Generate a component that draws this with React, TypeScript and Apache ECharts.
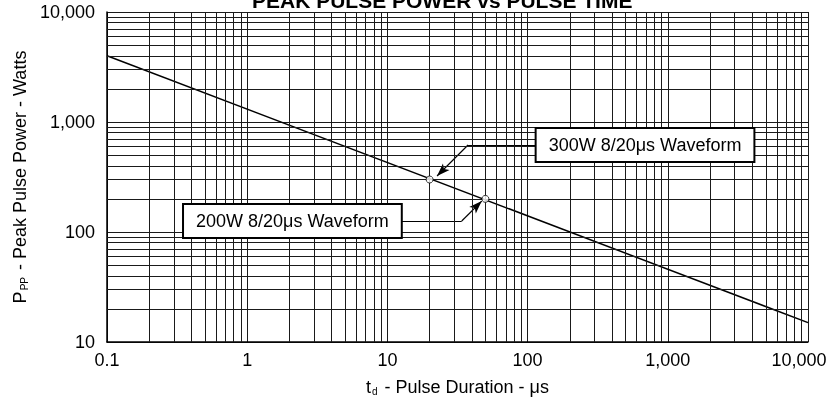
import React, { useEffect, useRef } from "react";
import * as echarts from "echarts";

const X_MIN = 0.1;
const X_MAX = 10000;
const Y_MIN = 10;
const Y_MAX = 10000;

const xDecades = [0.1, 1, 10, 100, 1000];
const yDecades = [10, 100, 1000];
const minorMultipliers = [2, 3, 4, 5, 6, 7, 8, 9];

const curveX = [0.1, 10000];
const curveY = [4000, 15];

const pointX = [20, 50];
const pointY = [300, 200];

const annotationLabels = ["300W 8/20μs Waveform", "200W 8/20μs Waveform"];
const annotationAnchorX = [116, 12.46];
const annotationAnchorY = [618, 126];
const annotationAlign = ["left", "right"];
const elbowX = [37.6, 33.9];
const tipX = [22.6, 47.1];
const tipY = [323, 191];

const FONT = "Liberation Sans, Arial, Helvetica, sans-serif";

function fmt(v: number): string {
  const n = Number(v.toPrecision(6));
  if (n >= 1000) return n.toLocaleString("en-US");
  return String(n);
}

export default function App() {
  const ref = useRef<HTMLDivElement>(null);
  useEffect(() => {
    if (!ref.current) return;
    const chart = echarts.init(ref.current, undefined, { renderer: "svg" });

    const xMinor: number[] = [];
    xDecades.forEach((d) => minorMultipliers.forEach((m) => xMinor.push(d * m)));
    const yMinor: number[] = [];
    yDecades.forEach((d) => minorMultipliers.forEach((m) => yMinor.push(d * m)));

    const gridLineStyle = { color: "#1a1a1a", width: 1, type: "solid" as const };

    const leaderData: any[] = [];
    annotationLabels.forEach((_, i) => {
      leaderData.push([
        { coord: [annotationAnchorX[i], annotationAnchorY[i]], symbol: "none" },
        { coord: [elbowX[i], annotationAnchorY[i]], symbol: "none" },
      ]);
      leaderData.push([
        { coord: [elbowX[i], annotationAnchorY[i]], symbol: "none" },
        { coord: [tipX[i], tipY[i]], symbol: "arrow", symbolSize: [7, 13] },
      ]);
    });

    const nameRich = {
      m: { fontFamily: FONT, fontSize: 18, color: "#000", lineHeight: 21, verticalAlign: "bottom" },
      s: { fontFamily: FONT, fontSize: 10, color: "#000", lineHeight: 10, verticalAlign: "bottom", padding: [0, 2, 0, 1] },
    };

    const option: any = {
      animation: false,
      title: {
        text: "PEAK PULSE POWER vs PULSE TIME",
        left: 247,
        top: -15,
        textStyle: { fontFamily: FONT, fontWeight: "bold", fontSize: 21, color: "#000" },
      },
      grid: { left: 107, right: 26, top: 12, bottom: 60 },
      xAxis: {
        type: "log",
        logBase: 10,
        min: X_MIN,
        max: X_MAX,
        axisLine: { show: true, lineStyle: { color: "#000", width: 1.5 } },
        axisTick: { show: false },
        axisLabel: {
          margin: 9,
          fontFamily: FONT,
          fontSize: 18,
          color: "#000",
          formatter: (v: number) => (Number(v.toPrecision(6)) === X_MAX ? "{last|" + fmt(v) + "}" : fmt(v)),
          rich: { last: { fontFamily: FONT, fontSize: 18, color: "#000", padding: [0, 18, 0, 0] } },
        },
        splitLine: { show: true, lineStyle: gridLineStyle },
        name: "{m|t}{s|d}{m| - Pulse Duration - μs}",
        nameLocation: "middle",
        nameGap: 33,
        nameTextStyle: { rich: nameRich },
      },
      yAxis: {
        type: "log",
        logBase: 10,
        min: Y_MIN,
        max: Y_MAX,
        axisLine: { show: true, lineStyle: { color: "#000", width: 1.5 } },
        axisTick: { show: false },
        axisLabel: { margin: 12, fontFamily: FONT, fontSize: 18, color: "#000", formatter: fmt },
        splitLine: { show: true, lineStyle: gridLineStyle },
        name: "{m|P}{s|PP}{m| - Peak Pulse Power - Watts}",
        nameLocation: "middle",
        nameGap: 75,
        nameTextStyle: { rich: nameRich },
      },
      series: [
        {
          type: "line",
          data: [],
          z: 1,
          silent: true,
          markLine: {
            silent: true,
            symbol: ["none", "none"],
            label: { show: false },
            lineStyle: gridLineStyle,
            data: [...xMinor.map((v) => ({ xAxis: v })), ...yMinor.map((v) => ({ yAxis: v }))],
          },
        },
        {
          type: "line",
          data: curveX.map((x, i) => [x, curveY[i]]),
          showSymbol: false,
          z: 3,
          lineStyle: { color: "#000", width: 1.5 },
          markLine: {
            silent: true,
            z: 4,
            label: { show: false },
            lineStyle: { color: "#000", width: 1.2, type: "solid" },
            data: leaderData,
          },
        },
        {
          type: "scatter",
          data: pointX.map((x, i) => [x, pointY[i]]),
          symbol: "circle",
          symbolSize: 7,
          z: 5,
          itemStyle: { color: "#fff", borderColor: "#000", borderWidth: 1 },
        },
      ],
    };
    chart.setOption(option);

    const graphics = annotationLabels.map((text, i) => {
      const p = chart.convertToPixel({ xAxisIndex: 0, yAxisIndex: 0 }, [annotationAnchorX[i], annotationAnchorY[i]]) as number[];
      return {
        type: "text",
        x: p[0],
        y: p[1],
        z: 100,
        style: {
          text,
          fontFamily: FONT,
          fontSize: 18,
          fill: "#000",
          backgroundColor: "#fff",
          borderColor: "#000",
          borderWidth: 2,
          padding: [7, 12, 7, 12],
          align: annotationAlign[i],
          verticalAlign: "middle",
        },
      };
    });
    chart.setOption({ graphic: graphics });

    return () => chart.dispose();
  }, []);
  return <div ref={ref} style={{ position: "fixed", left: 0, top: 0, width: 834, height: 402 }} />;
}
